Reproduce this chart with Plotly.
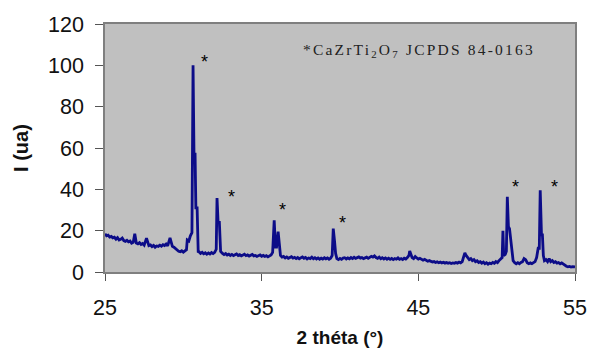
import plotly.graph_objects as go

two_theta = [
    25.0, 25.1, 25.2, 25.3, 25.4, 25.5, 25.6, 25.7, 25.8, 25.9,
    26.0, 26.1, 26.2, 26.3, 26.4, 26.5, 26.6, 26.7, 26.8, 26.9,
    27.0, 27.1, 27.2, 27.3, 27.4, 27.5, 27.65, 27.8, 27.9, 28.0,
    28.1, 28.2, 28.3, 28.4, 28.5, 28.6, 28.7, 28.8, 28.9, 29.0,
    29.15, 29.3, 29.4, 29.5, 29.6, 29.7, 29.8, 29.9, 30.0, 30.1,
    30.2, 30.25, 30.35, 30.45, 30.55, 30.62, 30.68, 30.75, 30.8, 30.88,
    30.95, 31.0, 31.1, 31.2, 31.3, 31.4, 31.5, 31.6, 31.7, 31.8,
    31.9, 32.0, 32.1, 32.15, 32.22, 32.3, 32.38, 32.5, 32.6, 32.7,
    32.8, 32.9, 33.0, 33.1, 33.2, 33.3, 33.4, 33.5, 33.6, 33.7,
    33.8, 33.9, 34.0, 34.1, 34.2, 34.3, 34.4, 34.5, 34.6, 34.7,
    34.8, 34.9, 35.0, 35.1, 35.2, 35.3, 35.4, 35.5, 35.6, 35.7,
    35.8, 35.88, 35.95, 36.05, 36.15, 36.2, 36.3, 36.4, 36.5, 36.6,
    36.7, 36.8, 36.9, 37.0, 37.1, 37.2, 37.3, 37.4, 37.5, 37.6,
    37.7, 37.8, 37.9, 38.0, 38.1, 38.2, 38.3, 38.4, 38.5, 38.6,
    38.7, 38.8, 38.9, 39.0, 39.1, 39.2, 39.3, 39.4, 39.5, 39.57,
    39.65, 39.72, 39.8, 39.9, 40.0, 40.1, 40.2, 40.3, 40.4, 40.5,
    40.6, 40.7, 40.8, 40.9, 41.0, 41.1, 41.2, 41.3, 41.4, 41.5,
    41.6, 41.7, 41.8, 41.9, 42.0, 42.1, 42.2, 42.3, 42.4, 42.5,
    42.6, 42.7, 42.8, 42.9, 43.0, 43.1, 43.2, 43.3, 43.4, 43.5,
    43.6, 43.7, 43.8, 43.9, 44.0, 44.1, 44.2, 44.3, 44.4, 44.45,
    44.55, 44.6, 44.7, 44.8, 44.9, 45.0, 45.1, 45.2, 45.3, 45.4,
    45.5, 45.6, 45.7, 45.8, 45.9, 46.0, 46.1, 46.2, 46.3, 46.4,
    46.5, 46.6, 46.7, 46.8, 46.9, 47.0, 47.1, 47.2, 47.3, 47.4,
    47.5, 47.6, 47.7, 47.8, 47.9, 47.97, 48.05, 48.15, 48.25, 48.35,
    48.45, 48.55, 48.65, 48.75, 48.85, 48.95, 49.05, 49.15, 49.25, 49.35,
    49.45, 49.55, 49.65, 49.75, 49.85, 49.95, 50.05, 50.15, 50.25, 50.35,
    50.4, 50.45, 50.55, 50.62, 50.68, 50.75, 50.82, 50.9, 50.97, 51.05,
    51.15, 51.25, 51.35, 51.45, 51.55, 51.65, 51.75, 51.85, 51.95, 52.05,
    52.15, 52.25, 52.35, 52.45, 52.55, 52.65, 52.72, 52.78, 52.86, 52.92,
    52.98, 53.05, 53.15, 53.25, 53.35, 53.45, 53.55, 53.65, 53.75, 53.85,
    53.95, 54.05, 54.15, 54.25, 54.35, 54.45, 54.55, 54.65, 54.75, 54.85,
    55.0,
]

intensity = [
    18.5, 17.5, 17.8, 16.9, 17.2, 16.5, 16.8, 15.9, 16.6, 15.5,
    15.8, 16.4, 15.2, 14.8, 15.3, 14.6, 15.0, 13.9, 14.3, 18.5,
    14.0, 13.6, 14.2, 13.3, 13.8, 13.0, 16.4, 12.8, 13.1, 12.3,
    12.9, 12.0, 12.6, 12.4, 13.0, 12.5, 13.2, 12.8, 13.5, 12.6,
    16.5, 12.4, 12.0, 11.2, 10.5, 10.0, 9.8, 10.3, 9.6, 10.0,
    10.8, 15.5, 15.0, 17.5, 19.0, 100.0, 57.0, 57.0, 31.0, 31.0,
    9.5, 9.8, 9.0, 9.5, 8.8, 9.3, 8.6, 9.2, 8.7, 9.4,
    8.9, 9.5, 11.0, 35.8, 24.0, 24.0, 10.0, 9.0, 8.4, 8.9,
    8.2, 8.6, 8.0, 8.5, 7.9, 8.3, 8.7, 8.0, 8.4, 7.8,
    8.2, 8.6, 7.9, 8.3, 7.7, 8.1, 8.5, 7.8, 8.0, 7.5,
    7.9, 8.3, 7.6, 8.0, 7.5, 7.9, 7.3, 7.8, 8.2, 9.5,
    25.0, 12.0, 12.0, 19.5, 12.0, 8.0, 7.2, 7.5, 6.8, 7.3,
    6.6, 7.0, 7.4, 6.7, 7.1, 6.5, 7.0, 6.4, 6.9, 7.3,
    6.6, 7.0, 6.3, 6.8, 6.5, 7.2, 6.4, 6.9, 6.3, 6.8,
    6.2, 6.7, 6.3, 6.9, 6.4, 6.8, 6.2, 6.7, 8.0, 21.0,
    15.0, 9.0, 6.5, 6.0, 6.6, 6.1, 6.7, 6.9, 6.3, 6.8,
    6.4, 7.0, 6.5, 7.1, 6.6, 6.9, 7.3, 6.7, 7.0, 6.5,
    6.9, 7.2, 6.6, 7.0, 7.6, 7.2, 7.8, 7.0, 6.6, 7.2,
    6.4, 6.9, 6.3, 6.8, 6.2, 6.7, 6.1, 6.6, 6.0, 6.5,
    6.2, 6.8, 6.1, 6.5, 6.0, 6.7, 6.3, 7.0, 8.0, 10.2,
    8.5, 7.0, 6.5, 7.5, 6.8, 6.2, 6.6, 6.0, 5.7, 6.1,
    5.5, 5.2, 5.5, 5.0, 4.8, 5.1, 4.6, 4.9, 4.5, 4.8,
    4.4, 4.7, 4.3, 4.6, 4.2, 4.5, 4.1, 4.4, 4.2, 4.6,
    4.3, 4.8, 4.4, 5.0, 7.5, 9.3, 8.0, 7.2, 6.0, 6.5,
    5.5, 6.0, 5.0, 5.4, 4.6, 5.0, 4.3, 4.8, 4.0, 4.5,
    3.8, 4.3, 4.0, 4.6, 4.2, 5.0, 4.5, 5.5, 6.5, 7.0,
    20.0, 8.0, 8.5, 10.0, 36.4, 22.0, 21.0, 15.0, 8.0, 5.5,
    4.5, 4.0, 4.5, 4.0, 4.6, 5.0, 6.5, 6.0, 4.5, 4.0,
    4.4, 4.0, 4.5, 5.0, 7.0, 11.5, 11.5, 39.5, 18.0, 18.0,
    8.0, 5.5, 6.0, 5.0, 6.5, 5.0, 5.5, 4.6, 5.0, 4.3,
    4.6, 4.0, 4.4, 3.8, 3.5, 2.8, 2.5, 2.7, 2.4, 2.6,
    2.5,
]

star_x = [31.33, 33.1, 36.3, 40.16, 51.23, 53.66]
star_y = [101.6, 36.3, 30.0, 23.7, 41.1, 41.1]

x_ticks = [25, 35, 45, 55]
y_ticks = [0, 20, 40, 60, 80, 100, 120]

fig = go.Figure()
fig.add_trace(go.Scatter(
    x=two_theta, y=intensity, mode="lines",
    line=dict(color="#0c0c88", width=2.8),
    showlegend=False, hoverinfo="skip",
))

for sx, sy in zip(star_x, star_y):
    fig.add_annotation(x=sx, y=sy, text="*", showarrow=False,
                       font=dict(family="Liberation Sans, Arial", size=18, color="black"),
                       xanchor="center", yanchor="middle")

fig.add_annotation(
    x=0.668, y=0.895, xref="paper", yref="paper",
    text='<span style="letter-spacing:2.2px">*CaZrTi<sub>2</sub>O<sub>7</sub> JCPDS 84-0163</span>',
    showarrow=False, xanchor="center", yanchor="middle",
    font=dict(family="Liberation Serif, Times New Roman", size=15.5, color="#222222"),
)

fig.update_layout(
    width=590, height=349,
    margin=dict(l=105, r=15, t=24, b=77),
    paper_bgcolor="white", plot_bgcolor="#c0c0c0",
    font=dict(family="Liberation Sans, Arial", color="#111111"),
    xaxis=dict(
        range=[25, 55], tickvals=x_ticks, ticktext=[str(v) for v in x_ticks],
        showgrid=False, zeroline=False, showline=True, mirror=True,
        linecolor="#7f7f7f", linewidth=1.5, automargin=False,
        ticks="outside", ticklen=7, tickcolor="#555555",
        tickfont=dict(size=21.5), ticklabelstandoff=8,
        title=dict(text="<b>2 th\u00e9ta (\u00b0)</b>", font=dict(size=19), standoff=12),
    ),
    yaxis=dict(
        range=[0, 120], tickvals=y_ticks, ticktext=[str(v) for v in y_ticks],
        showgrid=False, zeroline=False, showline=True, mirror=True,
        linecolor="#7f7f7f", linewidth=1.5, automargin=False,
        ticks="outside", ticklen=8, tickcolor="#555555",
        tickfont=dict(size=21.5), ticklabelstandoff=7,
        title=dict(text="<b>I (ua)</b>", font=dict(size=20), standoff=14),
    ),
)

fig.write_html("out.html")
